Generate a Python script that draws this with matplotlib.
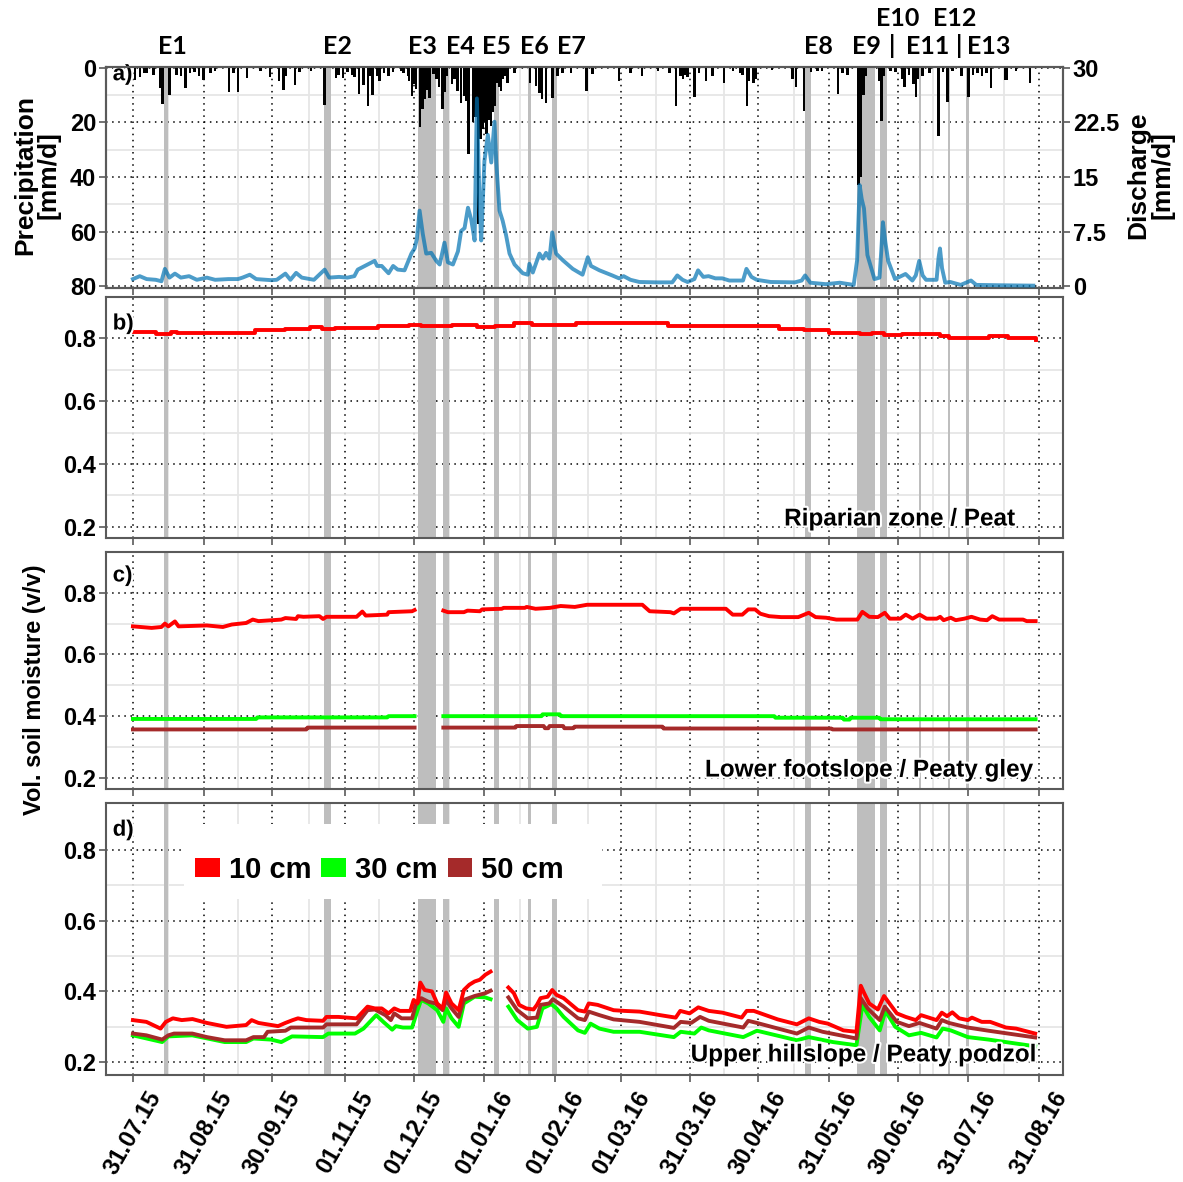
import numpy as np
import matplotlib
matplotlib.use('Agg')
import matplotlib.pyplot as plt
import matplotlib.dates as mdates
from matplotlib.patches import Rectangle, Patch
import matplotlib.patheffects as pe

plt.rcParams['font.family'] = ['Liberation Sans', 'DejaVu Sans']
plt.rcParams['font.weight'] = 'bold'

# ---------------- data ----------------
START = '2015-07-31'
XTICK_DATES = ['2015-07-31', '2015-08-31', '2015-09-30', '2015-11-01', '2015-12-01',
               '2016-01-01', '2016-02-01', '2016-03-01', '2016-03-31', '2016-04-30',
               '2016-05-31', '2016-06-30', '2016-07-31', '2016-08-31']
XTICK_LABELS = ['31.07.15', '31.08.15', '30.09.15', '01.11.15', '01.12.15', '01.01.16',
                '01.02.16', '01.03.16', '31.03.16', '30.04.16', '31.05.16', '30.06.16',
                '31.07.16', '31.08.16']

# events (day offsets from START)
EVENT_NAMES = ['E1', 'E2', 'E3', 'E4', 'E5', 'E6', 'E7', 'E8', 'E9', 'E10', 'E11', 'E12', 'E13']
EVENT_START = [13.6, 83.6, 124.7, 135.7, 158.0, 173.3, 183.4, 294.5, 317.3, 327.4, 344.4, 357.1, 365.2]
EVENT_END = [15.3, 86.7, 132.6, 138.3, 160.6, 174.6, 185.6, 297.2, 325.2, 330.4, 345.3, 358.0, 366.1]
EVENT_LABEL_DAY = [17.5, 89.5, 127.0, 143.5, 159.5, 175.8, 192.0, 300.5, 321.2, 334.9, 348.1, 360.1, 375.0]
EVENT_LABEL_ROW = [0, 0, 0, 0, 0, 0, 0, 0, 0, 1, 0, 1, 0]
SEP_DAY = [332.7, 362.1]

# precipitation (mm/d)
PRECIP_DAY = [1, 3, 5, 6, 9, 12, 13, 16, 19, 21, 23, 25, 27, 29, 31, 34, 36, 42, 44, 46, 50, 56,
              60, 64, 66, 67, 71, 73, 78, 84, 89, 90, 92, 94, 96, 97, 99, 101, 103, 104, 105, 107,
              108, 110, 112, 114,
              117.6, 118.5, 120.5, 121, 122.2, 123, 124, 125.8, 126.8, 127.7, 128.7, 129.9, 131.6,
              133, 134, 135.7, 136.6, 137.5, 139.8, 141, 142.3, 143.8, 145.2, 146, 147, 148.9,
              150, 151.1, 152.2, 153.3, 154, 155, 156, 156.9, 157.7, 158.4, 159.8, 160.5, 161.3,
              162, 163.2, 164.2, 167.1, 174, 176.6, 178.1, 179.2, 181, 183.9, 186.1, 188.3, 191.9,
              198.8, 201.4,
              213, 218, 223, 230, 235, 238, 240, 241, 242, 243, 246, 248, 251, 254, 259, 263, 266,
              267, 269, 270, 272, 273, 280, 289, 290.5, 294, 297, 300, 302, 309, 311, 313, 318,
              319, 320, 321, 327, 328, 329, 332, 334, 337, 338, 340, 342, 343, 344, 346, 349, 353,
              355, 357, 359, 363, 366, 368, 370, 372, 374, 376, 382, 383, 387, 393]
PRECIP_MM = [4.5, 3.3, 2.0, 2.0, 2.7, 7.3, 13.3, 10.0, 2.5, 3.0, 7.5, 2.0, 1.5, 3.0, 4.5, 2.0, 1.0,
             8.7, 2.0, 8.7, 3.9, 1.0, 3.3, 5.0, 8.0, 3.0, 6.3, 1.5, 1.0, 13.6, 3.9, 2.5, 3.9, 1.5,
             2.5, 3.5, 9.7, 6.3, 14.0, 3.0, 10.0, 3.0, 5.0, 2.0, 3.0, 1.5,
             1.2, 2.0, 3.0, 5.0, 10.3, 6.0, 7.9, 21.8, 15.0, 11.5, 8.0, 10.9, 2.4,
             4.0, 7.0, 14.9, 9.0, 3.0, 6.1, 4.0, 8.5, 12.7, 10.3, 12.0, 31.5, 20.0,
             18.0, 57.0, 26.0, 22.4, 20.0, 24.3, 19.0, 21.2, 16.0, 14.0, 5.5, 7.0, 8.5,
             4.0, 3.0, 5.5, 1.8, 5.5, 6.7, 9.1, 11.5, 12.7, 10.9, 3.0, 1.8, 1.8,
             8.5, 2.4,
             5.0, 2.0, 3.0, 1.0, 2.0, 13.9, 3.0, 4.0, 2.5, 3.5, 10.7, 2.0, 5.0, 3.0, 5.7, 1.0, 2.0,
             2.5, 13.9, 5.0, 5.5, 4.0, 0.8, 4.0, 7.0, 15.8, 1.5, 1.2, 1.0, 9.5, 2.0, 2.5, 42.8,
             40.0, 10.0, 3.0, 5.0, 19.5, 3.0, 1.0, 1.5, 4.0, 7.0, 2.5, 6.0, 10.7, 4.0, 3.0, 2.0, 25.0,
             1.5, 12.6, 1.0, 3.0, 10.7, 2.5, 2.0, 3.0, 2.0, 7.5, 4.4, 4.4, 1.0, 5.7]

# discharge (mm/d)
Q_DAY = [0, 3, 6, 10, 12.5, 14, 16, 18.4, 21, 24.6, 28, 32.4, 36, 41.8, 46, 48, 51.2, 54, 60.6,
         63, 66.8, 69, 71.5, 74, 79.3, 84, 86, 90.3, 94, 97, 98.5, 102.8, 105.9, 107, 109, 112,
         114, 116, 119, 122, 123.4, 124.4, 125.6, 127, 128.5, 130.7, 132.9, 134.4, 136.5, 138,
         140.2, 142.4, 143.8, 145.3, 146.8, 148.2, 149.7, 150.7, 151.9, 152.6, 154, 155.5, 157,
         158.4, 159.2, 160.6, 162, 163.5, 165, 167.2, 170.8, 173, 173.7, 175.2, 178.1, 179.6,
         181, 182.5, 183.7, 185.4, 188.3, 192.7, 197, 199.3, 200.7, 204.4, 210, 213, 215, 218,
         221.9, 229.5, 236.3, 238.5, 240.8, 243, 246, 247.6, 249.9, 252.2, 255.2, 258.2, 261.3,
         267.3, 268.8, 271, 273.3, 279.4, 290, 293, 294.5, 296.8, 303.6, 309.7, 315.8, 317.3,
         318.4, 319.3, 320.3, 321.8, 324.9, 327.1, 327.9, 328.6, 329.7, 330.9, 333.9, 338.5,
         341.5, 343, 344.5, 346, 347.5, 352.1, 353, 353.6, 354.5, 355.9, 358.1, 362.7, 367.2,
         369.5, 380, 394.5]
Q_MM = [1.0, 1.4, 1.0, 0.9, 0.7, 2.4, 1.2, 1.75, 1.2, 1.4, 0.9, 1.2, 0.9, 1.0, 1.0, 1.2, 1.6, 1.0,
        0.85, 0.9, 1.75, 0.9, 1.85, 1.2, 0.9, 2.3, 1.2, 1.3, 1.2, 1.4, 2.3, 3.0, 3.5, 2.8, 2.8, 1.8,
        2.8, 2.3, 2.2, 4.5, 5.2, 6.5, 10.4, 7.2, 4.5, 4.6, 3.5, 3.0, 6.0, 3.3,
        3.0, 4.8, 7.6, 8.0, 10.8, 9.2, 6.3, 25.8, 11.0, 6.3, 17.2, 20.8, 17.0,
        22.6, 17.0, 10.4, 9.0, 7.0, 4.5, 3.0, 1.8, 1.6, 3.1, 1.9, 4.5, 3.8,
        4.6, 3.8, 7.4, 4.5, 3.6, 2.4, 1.6, 4.0, 2.8, 2.2, 1.5, 1.1, 1.4, 0.9,
        0.6, 0.55, 0.55, 1.5, 0.9, 0.6, 1.0, 2.2, 1.3, 1.4, 1.1, 1.1, 0.8,
        0.8, 2.4, 1.3, 0.9, 0.6, 0.55, 0.8, 1.5, 0.5, 0.3, 0.5, 0.2, 3.6,
        13.9, 12.0, 10.7, 4.3, 1.0, 1.2, 5.0, 8.8, 6.0, 3.5, 1.0, 1.7,
        0.8, 1.5, 3.5, 1.5, 0.9, 0.9, 4.0, 5.2, 2.5, 0.5, 0.6, 0.2, 0.8,
        0.2, 0.15, 0.1]

NAN = float('nan')
# b) riparian zone / peat, 10 cm
B_DAY = [0, 10, 16.8, 19.5, 31.7, 53.3, 66.8, 77.7, 83, 88.5, 107.4, 121, 126, 140, 148, 150.7,
         158.8, 167, 175, 194, 224, 234.6, 261.7, 268.5, 275, 283, 294, 305, 318.5, 324, 329, 337,
         353.7, 357.7, 370, 375, 383.5, 395.6]
B_10 = [0.821, 0.815, 0.822, 0.816, 0.818, 0.826, 0.829, 0.835, 0.829, 0.833, 0.838, 0.842, 0.838,
        0.842, 0.843, 0.837, 0.838, 0.849, 0.843, 0.848, 0.848, 0.838, 0.838, 0.840, 0.838, 0.829,
        0.827, 0.816, 0.813, 0.818, 0.810, 0.813, 0.808, 0.800, 0.802, 0.809, 0.800, 0.795]

# c) lower footslope / peaty gley
C10_DAY = [0, 8.2, 12.5, 14, 15.5, 18.4, 20, 32.4, 39.4, 43.3, 49.6, 52.5, 55, 65, 66.8, 71.5, 72.3,
           74.7, 81.7, 83.3, 84.8, 98, 100.5, 102, 111.4, 112, 122.3, 123.4, 130,
           136, 138, 145, 146.6, 152, 153, 161.6, 162.4, 171.7, 172.5, 176.4, 182.7, 187.4, 193.6,
           199, 223.2, 226.4, 235.5, 237, 240, 259.8, 262.8, 267, 269.6, 272.6, 274.9, 278.7, 284,
           291.5, 296.1, 299.1, 303.7, 308.2, 317.4, 319.6, 322.6, 326.4, 329.4, 331.6, 336.2,
           338.6, 341.6, 344.7, 347.7, 352.2, 353.7, 355.2, 358.3, 360.5, 364.3, 367.4, 371.2,
           374.2, 376.5, 379.5, 390, 391.6, 395.5]
C10 = [0.691, 0.686, 0.689, 0.700, 0.691, 0.707, 0.691, 0.694, 0.689, 0.697, 0.702, 0.713, 0.708,
       0.713, 0.718, 0.715, 0.724, 0.722, 0.724, 0.715, 0.722, 0.722, 0.739, 0.726, 0.729, 0.737,
       0.740, 0.744, NAN,
       0.742, 0.737, 0.737, 0.742, 0.740, 0.746, 0.748, 0.751, 0.751, 0.754, 0.748, 0.751, 0.757,
       0.754, 0.761, 0.761, 0.740, 0.737, 0.733, 0.748, 0.748, 0.729, 0.729, 0.746, 0.746, 0.732,
       0.724, 0.721, 0.721, 0.735, 0.721, 0.719, 0.713, 0.713, 0.738, 0.722, 0.721, 0.735, 0.716,
       0.716, 0.729, 0.716, 0.729, 0.716, 0.716, 0.722, 0.711, 0.719, 0.711, 0.716, 0.722, 0.713,
       0.711, 0.724, 0.713, 0.713, 0.708, 0.708]
C30_DAY = [0, 54, 54.5, 111.4, 112, 123.4, 130, 136, 179, 179.5, 187, 187.5, 281, 281.5, 311,
           311.5, 314, 314.5, 327, 327.5, 395.5]
C30 = [0.391, 0.391, 0.396, 0.396, 0.400, 0.400, NAN, 0.400, 0.400, 0.406, 0.406, 0.400, 0.400,
       0.395, 0.395, 0.389, 0.389, 0.395, 0.395, 0.390, 0.390]
C50_DAY = [0, 76, 76.5, 123.4, 130, 136, 167.6, 168, 180, 180.5, 182, 182.5, 188.5, 189, 193, 193.5,
           232, 232.5, 306, 306.5, 395.5]
C50 = [0.357, 0.357, 0.363, 0.363, NAN, 0.363, 0.363, 0.368, 0.368, 0.361, 0.361, 0.368, 0.368,
       0.361, 0.361, 0.366, 0.366, 0.360, 0.360, 0.357, 0.357]

# d) upper hillslope / peaty podzol
D10_DAY = [0, 5.9, 12.1, 14.4, 17.5, 21.4, 26.1, 32.4, 41, 49.6, 52, 55, 63.6, 66.8, 70, 72.3, 76,
           83.3, 84.8, 90, 98, 102.8, 106, 109, 112, 114.5, 117, 121.5, 123, 124.7, 125.9, 127.8,
           131, 133.3, 135.7, 137.2, 139.6, 142.7, 145, 147.4, 149.7, 152, 154.4, 156.7, 160.5,
           164.5, 166.9, 169.2, 172.3, 175.5, 177, 178.6, 181.7, 183.7, 185.6, 188.7, 195, 198,
           199.7, 203.6, 210.6, 215.3, 222, 231, 237.8, 239.8, 243.9, 247.7, 252.3, 258.3, 266.7,
           268.9, 272, 282.5, 290.9, 296.1, 300.7, 304.5, 311.3, 317, 318.9, 320.4, 322.6, 326.4,
           329.1, 330.9, 334.7, 338.6, 343, 345.3, 352.1, 354.4, 356.7, 359, 362, 365.8, 367.6,
           371.9, 375.6, 382.5, 387, 395.3]
D10 = [0.319, 0.314, 0.295, 0.314, 0.324, 0.319, 0.322, 0.311, 0.300, 0.305, 0.319, 0.311, 0.302,
       0.311, 0.319, 0.324, 0.319, 0.317, 0.328, 0.328, 0.324, 0.357, 0.352, 0.352, 0.338, 0.352,
       0.345, 0.345, 0.376, 0.366, 0.425, 0.404, 0.400, 0.366, 0.352, 0.397, 0.366, 0.347, 0.404,
       0.419, 0.428, 0.433, 0.447, 0.456, NAN,
       0.411, 0.395, 0.362, 0.352, 0.349, 0.362, 0.381, 0.385, 0.404, 0.390, 0.381, 0.347, 0.343,
       0.366, 0.362, 0.347, 0.345, 0.343, 0.333, 0.326, 0.345, 0.338, 0.355, 0.345, 0.340, 0.326,
       0.345, 0.345, 0.321, 0.307, 0.324, 0.314, 0.309, 0.290, 0.286, 0.416, 0.395, 0.366, 0.349,
       0.387, 0.371, 0.338, 0.328, 0.319, 0.333, 0.319, 0.340, 0.330, 0.341, 0.324, 0.319, 0.326,
       0.314, 0.314, 0.298, 0.295, 0.281]
D30_DAY = [0, 12.8, 15.5, 26, 40.2, 49.6, 52.8, 60.5, 65, 69.7, 83.3, 85.6, 97.3, 101, 106.6, 109.7,
           113.6, 115.2, 118.3, 122.3, 124.7, 126.3, 129.4, 133.3, 136, 137.2, 139.6, 142.7, 145,
           149.7, 154.4, 156.7, 160.5, 164.5, 168.4, 173, 177, 179.4, 183.3, 185.6, 188.7, 195, 198,
           200.5, 204.4, 210.6, 222, 237, 240, 246, 249, 252.3, 267.4, 273.4, 290.9, 296.1, 306.7,
           317, 319.6, 322.6, 327.2, 329.7, 334, 340, 345.3, 352.1, 354.8, 358.3, 365.8, 374.9,
           395.3]
D30 = [0.276, 0.257, 0.273, 0.276, 0.257, 0.257, 0.267, 0.264, 0.257, 0.273, 0.271, 0.281, 0.281,
       0.295, 0.333, 0.314, 0.292, 0.302, 0.298, 0.298, 0.347, 0.376, 0.366, 0.347, 0.314, 0.352,
       0.324, 0.300, 0.366, 0.385, 0.383, 0.378, NAN,
       0.357, 0.319, 0.295, 0.300, 0.352, 0.364, 0.352, 0.328, 0.290, 0.283, 0.309, 0.295, 0.286,
       0.286, 0.271, 0.286, 0.281, 0.298, 0.290, 0.271, 0.289, 0.262, 0.271, 0.257, 0.248, 0.362,
       0.328, 0.290, 0.345, 0.300, 0.276, 0.283, 0.270, 0.295, 0.290, 0.271, 0.264, 0.245]
D50_DAY = [0, 5.9, 12.8, 15.5, 18, 26, 32.4, 40.2, 49.6, 52.8, 57.4, 59, 66.8, 69.2, 83.3, 84.8, 98,
           102.8, 106, 110.6, 113, 114.5, 117.7, 122.3, 123.9, 126.3, 129.4, 132.5, 135.7, 137.2,
           139.6, 142.7, 145, 149.7, 154.4, 156.7, 160.5, 164.5, 168.4, 173, 177, 178.6, 182.4,
           184, 188.7, 195, 198, 199.7, 204.4, 210.6, 222, 237, 240, 244.6, 248.5, 252.3, 267.4,
           269.6, 273.4, 290.9, 296.1, 302.2, 317, 318.9, 321.9, 327.2, 329.4, 334.7, 340, 344.6,
           352.1, 354.4, 357.5, 365.8, 374.9, 395.3]
D50 = [0.281, 0.276, 0.264, 0.276, 0.281, 0.281, 0.271, 0.262, 0.262, 0.271, 0.271, 0.286, 0.289,
       0.298, 0.298, 0.307, 0.307, 0.347, 0.349, 0.333, 0.319, 0.338, 0.324, 0.324, 0.362, 0.381,
       0.371, 0.366, 0.347, 0.376, 0.352, 0.328, 0.376, 0.387, 0.395, 0.402, NAN,
       0.383, 0.347, 0.324, 0.326, 0.362, 0.366, 0.378, 0.357, 0.324, 0.319, 0.343, 0.333, 0.321,
       0.314, 0.297, 0.314, 0.311, 0.328, 0.317, 0.298, 0.317, 0.311, 0.281, 0.298, 0.286, 0.267,
       0.381, 0.352, 0.319, 0.357, 0.314, 0.302, 0.311, 0.295, 0.319, 0.311, 0.298, 0.289, 0.270]

DEPTH_LABELS = ['10 cm', '30 cm', '50 cm']
SITE_LABELS = ['Riparian zone / Peat', 'Lower footslope / Peaty gley', 'Upper hillslope / Peaty podzol']
PANEL_LABELS = ['a)', 'b)', 'c)', 'd)']

# ---------------- style ----------------
RED, GREEN, BROWN = '#ff0000', '#00ff00', '#a52a2a'
QBLUE = '#0072B2'
BAND = '#bebebe'
SPINE = '#5a5a5a'

base = mdates.datestr2num(START)
def X(days):
    return base + np.asarray(days, dtype=float)

xt = mdates.datestr2num(XTICK_DATES)
xminor = (xt[:-1] + xt[1:]) / 2.0
xlim = (base - 11.8, xt[-1] + 10.5)

fig = plt.figure(figsize=(11.83, 11.82), dpi=100)
W, H = 1183.0, 1182.0
L, R = 106, 1063
def add_ax(top, bottom):
    return fig.add_axes([L / W, 1 - bottom / H, (R - L) / W, (bottom - top) / H])

axa = add_ax(67, 288)
axb = add_ax(297, 538)
axc = add_ax(552, 789)
axd = add_ax(803, 1075)
axes = [axa, axb, axc, axd]

for ax in axes:
    ax.set_xlim(*xlim)
    ax.set_xticks(xt)
    ax.set_xticks(xminor, minor=True)
    ax.set_axisbelow(True)
    ax.grid(which='minor', color='#e6e6e6', lw=1.3, ls='-')
    ax.grid(which='major', color='black', lw=1.1, ls=(0, (1, 3)))
    ax.tick_params(which='minor', length=0)
    ax.tick_params(which='major', length=5, width=1.2, color=SPINE, labelsize=17)
    for s in ax.spines.values():
        s.set_color(SPINE)
        s.set_linewidth(1.5)
    for s0, s1 in zip(EVENT_START, EVENT_END):
        ax.axvspan(base + s0, base + s1, color=BAND, lw=0, zorder=1)
    if ax is not axd:
        ax.set_xticklabels([])

# panel a
axa.bar(X(PRECIP_DAY), PRECIP_MM, width=1.1, color='black', zorder=3)
axa.set_ylim(80.6, -0.3)
axa.set_yticks([0, 20, 40, 60, 80])
axa.set_yticks([10, 30, 50, 70], minor=True)
axa.tick_params(axis='y', which='major', pad=2)
axa2 = axa.twinx()
axa2.plot(X(Q_DAY), Q_MM, color=QBLUE, alpha=0.7, lw=2.8, zorder=4)
axa2.set_ylim((80 - 80.6) * 0.375, (80 + 0.3) * 0.375)
axa2.set_yticks([0, 7.5, 15, 22.5, 30])
axa2.set_yticklabels(['0', '7.5', '15', '22.5', '30'])
axa2.tick_params(axis='y', length=5, width=1.2, color=SPINE, labelsize=17, pad=2)
for s in axa2.spines.values():
    s.set_color(SPINE)
    s.set_linewidth(1.5)

# event labels
for name, d, row in zip(EVENT_NAMES, EVENT_LABEL_DAY, EVENT_LABEL_ROW):
    axa.text(base + d, 1.093 if row == 0 else 1.22, name, transform=axa.get_xaxis_transform(),
             ha='center', va='center', fontsize=18, family='Lato', fontweight='bold', clip_on=False)
for d in SEP_DAY:
    axa.text(base + d, 1.093, '|', transform=axa.get_xaxis_transform(), ha='center', va='center',
             fontsize=18, family='Lato', fontweight='bold', clip_on=False)

# soil moisture panels
for ax in (axb, axc, axd):
    ax.set_ylim(0.164, 0.932)
    ax.set_yticks([0.2, 0.4, 0.6, 0.8])
    ax.set_yticks([0.3, 0.5, 0.7], minor=True)
    ax.tick_params(axis='y', which='major', pad=2)

lw = 2.8
axb.plot(X(B_DAY), B_10, color=RED, lw=lw, zorder=3, drawstyle='steps-post')
axc.plot(X(C50_DAY), C50, color=BROWN, lw=lw, zorder=3)
axc.plot(X(C30_DAY), C30, color=GREEN, lw=lw, zorder=3)
axc.plot(X(C10_DAY), C10, color=RED, lw=lw, zorder=3)
axd.plot(X(D30_DAY), D30, color=GREEN, lw=lw, zorder=3)
axd.plot(X(D50_DAY), D50, color=BROWN, lw=lw, zorder=3)
axd.plot(X(D10_DAY), D10, color=RED, lw=lw, zorder=3)

# x tick labels
axd.set_xticklabels(XTICK_LABELS, rotation=60, ha='center', va='top', fontsize=17)
axd.tick_params(axis='x', pad=4)

# panel labels
stroke = [pe.withStroke(linewidth=3, foreground='white')]
for ax, lab, y in zip(axes, PANEL_LABELS, [0.965, 0.888, 0.899, 0.90]):
    ax.text(0.007, y, lab, transform=ax.transAxes, ha='left', va='center', fontsize=16,
            fontweight='bold', zorder=6, path_effects=stroke)

for ax, lab, x, y in zip((axb, axc, axd), SITE_LABELS, [0.95, 0.969, 0.973], [0.079, 0.08, 0.074]):
    ax.text(x, y, lab, transform=ax.transAxes, ha='right', va='center', fontsize=17.5,
            fontweight='bold', zorder=6, path_effects=stroke)

# legend in panel d
axd.add_patch(Rectangle((0.0815, 0.647), 0.4365, 0.276, transform=axd.transAxes,
                        facecolor='white', edgecolor='none', zorder=4))
handles = [Patch(facecolor=c, edgecolor='none') for c in (RED, GREEN, BROWN)]
leg = axd.legend(handles, DEPTH_LABELS, loc='center left', bbox_to_anchor=(0.093, 0.754), ncol=3,
                 frameon=False, prop={'weight': 'bold', 'size': 21}, handlelength=0.85,
                 handleheight=0.6, handletextpad=0.3, columnspacing=0.35, borderaxespad=0,
                 borderpad=0)
leg.set_zorder(5)

# axis titles
fig.text(37 / W, 1 - 175 / H, 'Precipitation\n[mm/d]', rotation=90, ha='center', va='center',
         fontsize=19, fontweight='bold', linespacing=1.0)
fig.text(1150 / W, 1 - 175 / H, 'Discharge\n[mm/d]', rotation=90, ha='center', va='center',
         fontsize=19, fontweight='bold', linespacing=1.0)
fig.text(35 / W, 1 - 690 / H, 'Vol. soil moisture (v/v)', rotation=90, ha='center', va='center',
         fontsize=17, fontweight='bold')

fig.savefig('out.png', dpi=100)
